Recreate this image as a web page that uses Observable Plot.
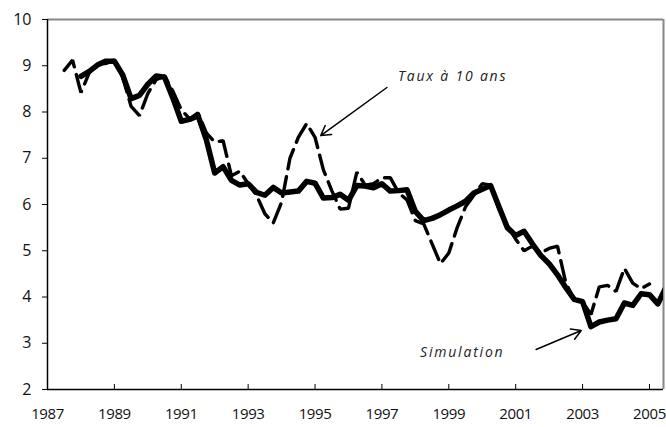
<!DOCTYPE html>
<html><head><meta charset="utf-8">
<script src="https://cdn.jsdelivr.net/npm/d3@7"></script>
<script src="https://cdn.jsdelivr.net/npm/@observablehq/plot@0.6"></script>
<style>
body{margin:0;background:#fff;}
#chart svg{display:block;}
</style>
</head><body><div id="chart"></div>
<script>
// Simulation (thick solid), quarterly from 1988.0
const simStart = 1988.0;
const simValues = [8.77,8.88,9.02,9.1, 9.1,8.8,8.29,8.36, 8.6,8.78,8.75,8.3, 7.8,7.84,7.92,7.4,
  6.68,6.82,6.52,6.42, 6.45,6.26,6.2,6.37, 6.25,6.27,6.29,6.5, 6.46,6.14,6.15,6.22,
  6.09,6.41,6.4,6.36, 6.45,6.29,6.3,6.32, 5.85,5.65,5.7,5.78, 5.88,5.97,6.07,6.25,
  6.33,6.41,5.95,5.5, 5.33,5.42,5.15,4.9, 4.72,4.48,4.2,3.95, 3.9,3.36,3.46,3.5,
  3.53,3.87,3.82,4.07, 4.05,3.85,4.22];
// Taux à 10 ans (dashed), quarterly from 1987.5
const tauxStart = 1987.5;
const tauxValues = [8.9,9.12, 8.42,8.85,9.05,9.05, 9.12,8.75,8.12,7.92, 8.4,8.7,8.78,8.45,
  8.05,7.85,7.98,7.55, 7.35,7.38,6.62,6.72, 6.45,6.2,5.8,5.6, 6.05,7.0,7.45,7.75,
  7.45,6.75,6.3,5.9, 5.92,6.7,6.42,6.45, 6.58,6.58,6.25,6.1, 5.65,5.58,5.15,4.72,
  4.95,5.5,5.95,6.2, 6.45,6.42,5.9,5.55, 5.25,5.0,5.1,4.95, 5.05,5.1,4.3,3.95,
  3.9,3.62,4.22,4.25, 4.12,4.62,4.3,4.18, 4.28];
const xTicks = [1987,1989,1991,1993,1995,1997,1999,2001,2003,2005];
const yTicks = [2,3,4,5,6,7,8,9,10];
const xDomain = [1987, 2005.42];
const yDomain = [2, 10];
const labels = [
  {x: 1997.48, y: 8.77, text: "Taux à 10 ans"},
  {x: 1998.14, y: 2.8, text: "Simulation"}
];
const arrows = [
  {x1: 1997.15, y1: 8.53, x2: 1995.17, y2: 7.49},
  {x1: 2001.61, y1: 2.865, x2: 2002.96, y2: 3.276}
];

const sim = simValues.map((v,i)=>({t: simStart + i*0.25, v}));
const taux = tauxValues.map((v,i)=>({t: tauxStart + i*0.25, v}));

const chart = Plot.plot({
  width: 666, height: 427,
  marginLeft: 47, marginTop: 19, marginBottom: 38, marginRight: 3,
  style: {fontFamily: "'Open Sans', sans-serif", fontSize: "16px", color: "#111", background: "#fff"},
  x: {domain: xDomain},
  y: {domain: yDomain},
  marks: [
    Plot.axisY({ticks: yTicks, tickSize: 5, tickPadding: 11, tickFormat: d=>String(d), fontSize: 16, stroke: "#000"}),
    Plot.axisX({ticks: xTicks, tickSize: 0, tickPadding: 19, tickFormat: d=>String(d), fontSize: 15}),
    Plot.ruleX(xTicks.slice(1), {x: d=>d, y1: 2, y2: 2 + 5/46.25, stroke: "#000", strokeWidth: 1}),
    Plot.ruleY([10], {stroke: "#888", strokeWidth: 2}),
    Plot.ruleX([xDomain[1]], {stroke: "#888", strokeWidth: 2}),
    Plot.ruleX([1987], {stroke: "#000", strokeWidth: 1.5}),
    Plot.ruleY([2], {stroke: "#000", strokeWidth: 1.5}),
    Plot.line(taux, {x: "t", y: "v", stroke: "#000", strokeWidth: 3.4, strokeDasharray: "20,8", strokeLinejoin: "miter"}),
    Plot.line(sim, {x: "t", y: "v", stroke: "#000", strokeWidth: 5.5, strokeLinejoin: "round", clip: true}),
    Plot.arrow(arrows, {x1: "x1", y1: "y1", x2: "x2", y2: "y2", stroke: "#000", strokeWidth: 1.5, headLength: 11, bend: 0}),
    Plot.text(labels, {x: "x", y: "y", text: "text", textAnchor: "start", fontStyle: "italic", fontSize: 14, fill: "#222"})
  ]
});
document.getElementById("chart").append(chart);
chart.querySelectorAll("g[aria-label='text'] text").forEach(t=>t.style.letterSpacing="1.8px");
chart.querySelectorAll("g[aria-label='x-axis tick label'] text").forEach(t=>t.style.letterSpacing="-0.4px");
</script>
</body></html>
